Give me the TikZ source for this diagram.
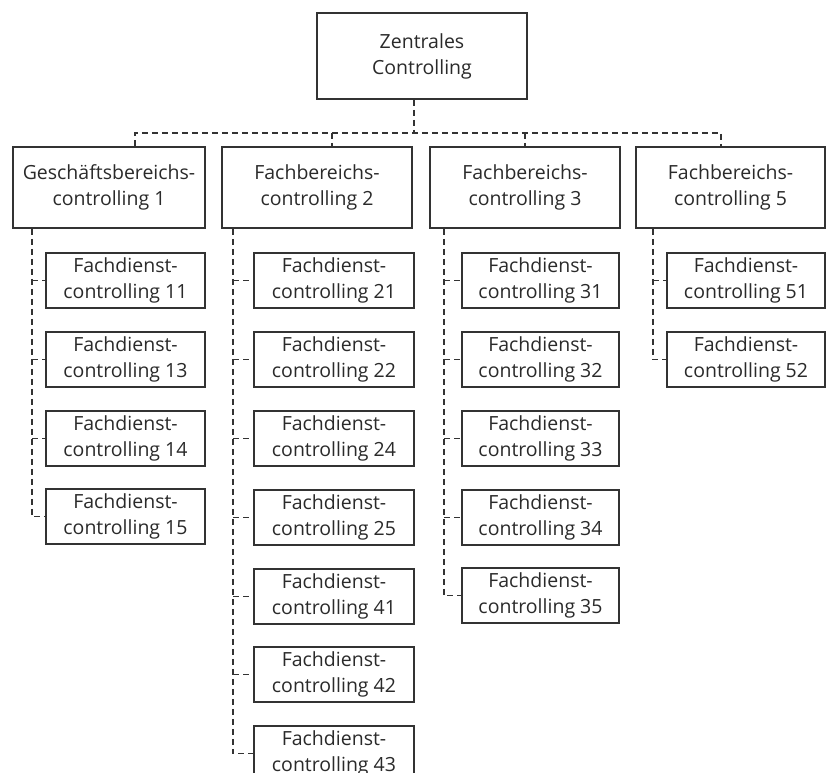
\documentclass[tikz,border=0pt]{standalone}
\usepackage{fontspec}
\setmainfont{Open Sans}
\usetikzlibrary{calc}
\definecolor{ink}{HTML}{2A2A2A}
\definecolor{edge}{HTML}{333333}
\tikzset{
  box/.style={draw=edge, line width=1.6pt, fill=white, align=center, text=ink,
    inner sep=0pt, font=\fontsize{19.5}{26}\selectfont},
  topbox/.style={box, minimum width=210pt, minimum height=86pt},
  midbox/.style={box, minimum height=81pt},
  leaf/.style={box, minimum height=55pt},
  conn/.style={draw=edge, line width=1.5pt, dash pattern=on 6pt off 4pt}
}
\begin{document}
\begin{tikzpicture}[x=1pt,y=-1pt]
\clip (0,0) rectangle (827,773);
\fill[white] (0,0) rectangle (827,773);
% top
\node[topbox] (Z) at (422,56) {Zentrales\\Controlling};
% level 1
\node[midbox, minimum width=192pt] (b1) at (109,187.5) {Geschäftsbereichs-\\controlling 1};
\node[midbox, minimum width=190pt] (b2) at (317,187.5) {Fachbereichs-\\controlling 2};
\node[midbox, minimum width=190pt] (b3) at (525,187.5) {Fachbereichs-\\controlling 3};
\node[midbox, minimum width=189pt] (b5) at (730.5,187.5) {Fachbereichs-\\controlling 5};
% bus coordinates
\coordinate (bus) at (414,133);
\coordinate (busL) at (135,133);
\coordinate (busR) at (721,133);
\coordinate (d2) at (332,133);
\coordinate (d3) at (525,133);
\draw[conn] (Z.south -| bus) -- (bus);
\draw[conn] (b1.north -| busL) -- (busL) -- (busR) -- (b5.north -| busR);
\draw[conn] (d2) -- (b2.north -| d2);
\draw[conn] (d3) -- (b3.north -| d3);
% column 1
\foreach \n/\t in {11/253,13/332,14/411,15/489}
  \node[leaf, minimum width=159pt] (c\n) at (125.5,\t+27.5) {Fachdienst-\\controlling \n};
% column 2
\foreach \n/\t in {21/253,22/332,24/411,25/490,41/569,42/647,43/726}
  \node[leaf, minimum width=160pt] (c\n) at (334,\t+27.5) {Fachdienst-\\controlling \n};
% column 3
\foreach \n/\t in {31/253,32/332,33/411,34/490,35/568}
  \node[leaf, minimum width=157pt] (c\n) at (540.5,\t+27.5) {Fachdienst-\\controlling \n};
% column 4
\foreach \n/\t in {51/253,52/332}
  \node[leaf, minimum width=158pt] (c\n) at (746,\t+27.5) {Fachdienst-\\controlling \n};
% vertical trunks
\coordinate (v1) at (32,0);
\coordinate (v2) at (233,0);
\coordinate (v3) at (444,0);
\coordinate (v4) at (653,0);
\draw[conn] (b1.south -| v1) |- (c15.west);
\foreach \n in {11,13,14} \draw[conn] (c\n.west -| v1) -- (c\n.west);
\draw[conn] (b2.south -| v2) |- (c43.west);
\foreach \n in {21,22,24,25,41,42} \draw[conn] (c\n.west -| v2) -- (c\n.west);
\draw[conn] (b3.south -| v3) |- (c35.west);
\foreach \n in {31,32,33,34} \draw[conn] (c\n.west -| v3) -- (c\n.west);
\draw[conn] (b5.south -| v4) |- (c52.west);
\draw[conn] (c51.west -| v4) -- (c51.west);
\end{tikzpicture}
\end{document}
